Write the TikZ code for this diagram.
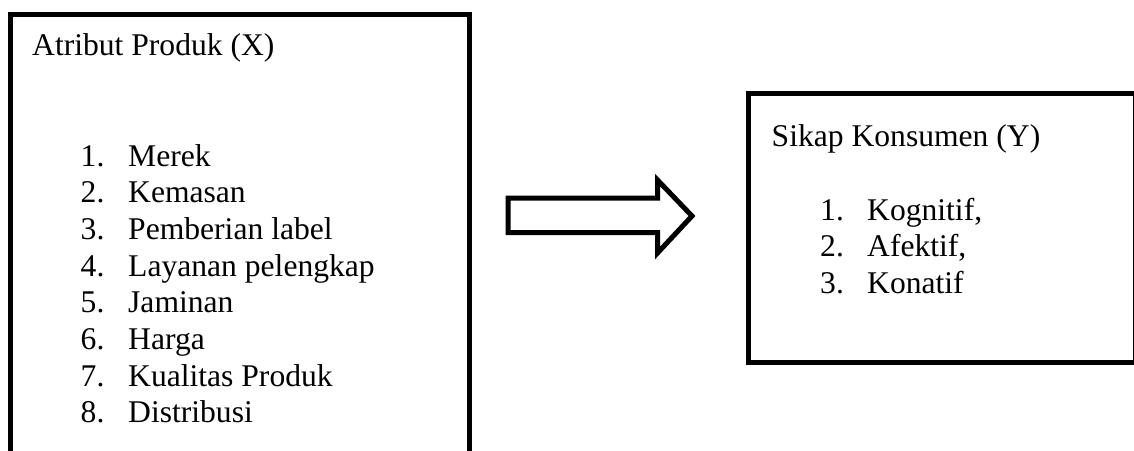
\documentclass[tikz,border=0pt]{standalone}
\usepackage{fontspec}
\setmainfont{Liberation Serif}
\begin{document}
\begin{tikzpicture}[x=1pt,y=-1pt,
  boxline/.style={draw=black,line width=5pt,line join=miter},
  txt/.style={anchor=base west,inner sep=0pt,font=\fontsize{31.6}{36.6}\selectfont},
  num/.style={txt}]
\useasboundingbox (0,0) rectangle (1134,450);
\clip (0,0) rectangle (1134,450);
% left box
\draw[boxline] (10.5,480) -- (10.5,14.5) -- (469.5,14.5) -- (469.5,480);
\node[txt] (tX) at (32,55) {Atribut Produk (X)};
\foreach \i/\t [count=\k] in {1/Merek,2/Kemasan,3/Pemberian label,4/Layanan pelengkap,5/Jaminan,6/Harga,7/Kualitas Produk,8/Distribusi}{
  \node[num] (nx\i) at (80.5,{166+36.67*(\k-1)}) {\i.};
  \node[txt] (lx\i) at (128,{166+36.67*(\k-1)}) {\t};
}
% arrow
\draw[boxline,fill=white] (508,198) -- (657.5,198) -- (657.5,180) -- (692,216) -- (657.5,253) -- (657.5,232.5) -- (508,232.5) -- cycle;
% right box
\draw[boxline] (748,93) rectangle (1135.5,362.5);
\node[txt] (tY) at (771.5,146) {Sikap Konsumen (Y)};
\foreach \i/\t [count=\k] in {1/Kognitif{,},2/Afektif{,},3/Konatif}{
  \node[num] (ny\i) at (820,{220+36.67*(\k-1)}) {\i.};
  \node[txt] (ly\i) at (867,{220+36.67*(\k-1)}) {\t};
}
\end{tikzpicture}
\end{document}
